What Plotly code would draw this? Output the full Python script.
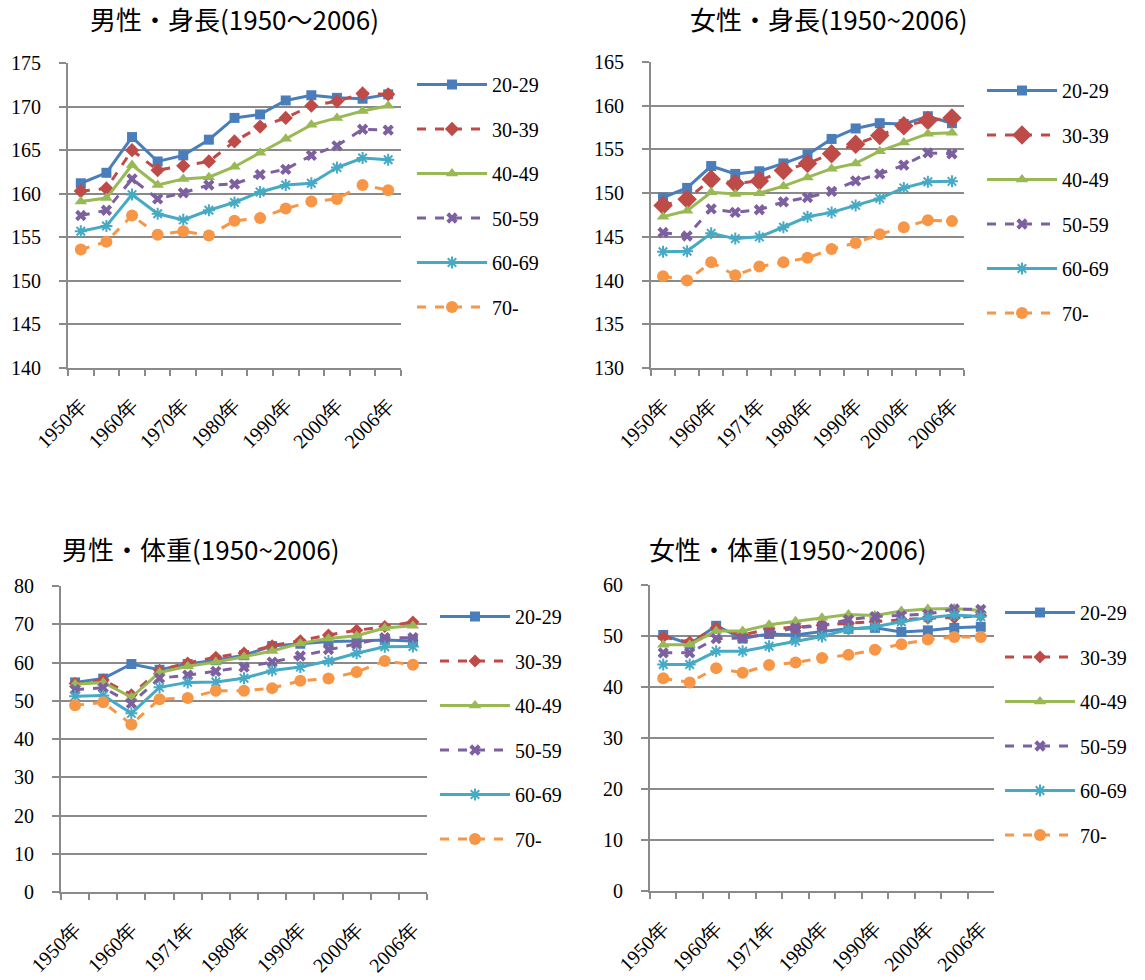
import plotly.graph_objects as go

# ---------------- data ----------------
age_groups = ["20-29", "30-39", "40-49", "50-59", "60-69", "70-"]

years_a = ["1950年", "1955年", "1960年", "1965年", "1970年", "1975年", "1980年",
           "1985年", "1990年", "1995年", "2000年", "2003年", "2006年"]
years_b = ["1950年", "1955年", "1960年", "1965年", "1971年", "1975年", "1980年",
           "1985年", "1990年", "1995年", "2000年", "2003年", "2006年"]

# 男性・身長
m_h_20 = [161.2, 162.4, 166.5, 163.7, 164.4, 166.2, 168.7, 169.1, 170.7, 171.3, 171.0, 170.9, 171.4]
m_h_30 = [160.3, 160.6, 165.0, 162.7, 163.2, 163.7, 166.0, 167.7, 168.7, 170.1, 170.6, 171.5, 171.4]
m_h_40 = [159.1, 159.5, 163.3, 161.0, 161.7, 161.9, 163.1, 164.7, 166.3, 167.9, 168.7, 169.5, 170.1]
m_h_50 = [157.5, 158.1, 161.7, 159.4, 160.1, 161.0, 161.1, 162.2, 162.8, 164.4, 165.5, 167.4, 167.3]
m_h_60 = [155.7, 156.3, 159.9, 157.7, 157.0, 158.1, 159.0, 160.2, 161.0, 161.2, 163.0, 164.1, 163.9]
m_h_70 = [153.6, 154.5, 157.5, 155.3, 155.7, 155.2, 156.9, 157.2, 158.3, 159.1, 159.4, 161.0, 160.4]

# 女性・身長
f_h_20 = [149.5, 150.6, 153.1, 152.2, 152.5, 153.4, 154.4, 156.2, 157.4, 158.0, 157.9, 158.8, 158.0]
f_h_30 = [148.6, 149.3, 151.6, 151.1, 151.4, 152.6, 153.4, 154.5, 155.6, 156.6, 157.7, 158.3, 158.6]
f_h_40 = [147.3, 148.0, 150.1, 149.9, 150.0, 150.8, 151.8, 152.8, 153.4, 154.8, 155.8, 156.8, 156.9]
f_h_50 = [145.5, 145.1, 148.2, 147.8, 148.1, 149.0, 149.5, 150.2, 151.4, 152.2, 153.2, 154.6, 154.5]
f_h_60 = [143.3, 143.35, 145.4, 144.8, 145.0, 146.1, 147.3, 147.8, 148.6, 149.4, 150.6, 151.3, 151.35]
f_h_70 = [140.5, 140.0, 142.1, 140.6, 141.6, 142.1, 142.6, 143.6, 144.3, 145.3, 146.1, 146.9, 146.8]

# 男性・体重
m_w_20 = [54.8, 55.8, 59.6, 58.1, 59.6, 60.6, 61.9, 64.3, 64.9, 65.5, 65.6, 65.9, 65.6]
m_w_30 = [54.5, 55.4, 51.6, 58.0, 59.9, 61.4, 62.5, 64.4, 65.7, 67.2, 68.4, 69.4, 70.6]
m_w_40 = [54.3, 54.8, 50.9, 57.4, 59.0, 60.1, 61.5, 63.0, 65.0, 66.3, 67.0, 69.0, 69.6]
m_w_50 = [52.9, 53.4, 49.3, 55.9, 56.7, 57.7, 58.8, 60.1, 61.7, 63.4, 64.8, 66.5, 66.5]
m_w_60 = [51.2, 51.4, 46.7, 53.5, 54.8, 54.9, 55.9, 57.9, 58.8, 60.4, 62.4, 64.1, 64.2]
m_w_70 = [48.8, 49.6, 43.8, 50.4, 50.7, 52.6, 52.6, 53.3, 55.2, 55.8, 57.5, 60.4, 59.4]

# 女性・体重
f_w_20 = [50.2, 48.4, 52.0, 49.5, 50.4, 50.2, 50.9, 51.4, 51.6, 50.8, 51.1, 51.6, 51.8]
f_w_30 = [49.8, 48.8, 51.6, 50.2, 51.4, 51.7, 52.1, 52.5, 52.8, 53.2, 53.5, 53.6, 54.0]
f_w_40 = [48.3, 48.3, 51.0, 51.0, 52.2, 52.9, 53.6, 54.2, 54.0, 54.9, 55.3, 55.4, 55.0]
f_w_50 = [46.7, 46.7, 49.5, 49.6, 50.5, 51.6, 52.0, 53.2, 53.8, 54.0, 54.3, 55.3, 55.2]
f_w_60 = [44.4, 44.4, 47.0, 47.0, 48.0, 49.0, 49.9, 51.3, 51.8, 52.8, 53.6, 54.1, 53.8]
f_w_70 = [41.7, 40.9, 43.7, 42.8, 44.3, 44.8, 45.7, 46.3, 47.3, 48.4, 49.3, 49.8, 49.8]

titles = ["男性・身長(1950～2006)", "女性・身長(1950~2006)",
          "男性・体重(1950~2006)", "女性・体重(1950~2006)"]
y_ranges = [(140, 175, 5), (130, 165, 5), (0, 80, 10), (0, 60, 10)]

# ---------------- styles ----------------
colors = ["#4A7EBB", "#BE4B48", "#98B954", "#7D60A0", "#46AAC5", "#F79646"]
dashes = ["solid", "dash", "solid", "dash", "solid", "dash"]
symbols = ["square", "diamond", "triangle-up", "x", "asterisk-open", "circle"]
msizes = [10, 11, 11, 10, 10, 12]

panels = [
    dict(cats=years_a, series=[m_h_20, m_h_30, m_h_40, m_h_50, m_h_60, m_h_70],
         xdom=(68, 401), ydom=(63, 368), title_xy=(234, 18), leg=(412, 65), dia=11),
    dict(cats=years_b, series=[f_h_20, f_h_30, f_h_40, f_h_50, f_h_60, f_h_70],
         xdom=(651, 964), ydom=(62, 368), title_xy=(828, 18), leg=(982, 71), dia=15),
    dict(cats=years_b, series=[m_w_20, m_w_30, m_w_40, m_w_50, m_w_60, m_w_70],
         xdom=(61, 427), ydom=(586, 892), title_xy=(200, 548), leg=(435, 597), dia=10),
    dict(cats=years_b, series=[f_w_20, f_w_30, f_w_40, f_w_50, f_w_60, f_w_70],
         xdom=(650, 994), ydom=(585, 891), title_xy=(787, 548), leg=(1000, 593), dia=10),
]

W, H = 1145, 980
GRID = "#8A8A8A"
SERIF = "Liberation Serif, Times New Roman, serif"
CJK = "Noto Sans CJK JP"

fig = go.Figure()
layout = dict(
    width=W, height=H, margin=dict(l=0, r=0, t=0, b=0, autoexpand=False),
    paper_bgcolor="white", plot_bgcolor="white", annotations=[],
    showlegend=True,
)

for i, p in enumerate(panels):
    k = "" if i == 0 else str(i + 1)
    xa, ya, lg = "x" + k, "y" + k, "legend" + k
    for s, name in enumerate(age_groups):
        size = p["dia"] if symbols[s] == "diamond" else msizes[s]
        fig.add_trace(go.Scatter(
            x=p["cats"], y=p["series"][s], name=name, mode="lines+markers",
            line=dict(color=colors[s], width=3, dash=dashes[s]),
            marker=dict(symbol=symbols[s], size=size, color=colors[s],
                        line=dict(color=colors[s], width=2 if symbols[s] == "asterisk-open" else 0)),
            xaxis=xa, yaxis=ya, legend=lg, legendgroup=f"g{i}_{s}",
        ))
    cats = p["cats"]
    layout["xaxis" + k] = dict(
        domain=[p["xdom"][0] / W, p["xdom"][1] / W], anchor=ya, automargin=False,
        type="category", range=[-0.5, len(cats) - 0.5],
        tickson="boundaries", ticks="outside", ticklen=6, tickwidth=1.5, tickcolor=GRID,
        tickmode="array", tickvals=cats,
        ticktext=[c if j % 2 == 0 else "" for j, c in enumerate(cats)],
        tickangle=-45, tickfont=dict(family=SERIF, size=20, color="black"),
        ticklabelstandoff=16,
        showline=True, linecolor=GRID, linewidth=2, showgrid=False, zeroline=False,
    )
    lo, hi, dt = y_ranges[i]
    layout["yaxis" + k] = dict(
        domain=[1 - p["ydom"][1] / H, 1 - p["ydom"][0] / H], anchor=xa, automargin=False,
        range=[lo, hi], dtick=dt, tick0=lo,
        ticks="outside", ticklen=7, tickwidth=1.5, tickcolor=GRID,
        tickfont=dict(family=SERIF, size=20, color="black"), ticklabelstandoff=14,
        showline=True, linecolor=GRID, linewidth=2,
        showgrid=True, gridcolor=GRID, gridwidth=1.5, zeroline=False,
    )
    layout["legend" + k] = dict(
        x=p["leg"][0] / W, y=1 - p["leg"][1] / H, xanchor="left", yanchor="top",
        font=dict(family=SERIF, size=20, color="black"), bgcolor="rgba(0,0,0,0)",
        itemwidth=70, tracegroupgap=15.5, traceorder="grouped",
    )
    layout["annotations"].append(dict(
        text=titles[i], x=p["title_xy"][0] / W, y=1 - p["title_xy"][1] / H,
        xref="paper", yref="paper", xanchor="center", yanchor="middle",
        showarrow=False, font=dict(family=CJK, size=26, color="black"),
    ))

fig.update_layout(**layout)
fig.write_html("out.html", config={"displayModeBar": False},
               post_script="document.body.style.margin='0';")
